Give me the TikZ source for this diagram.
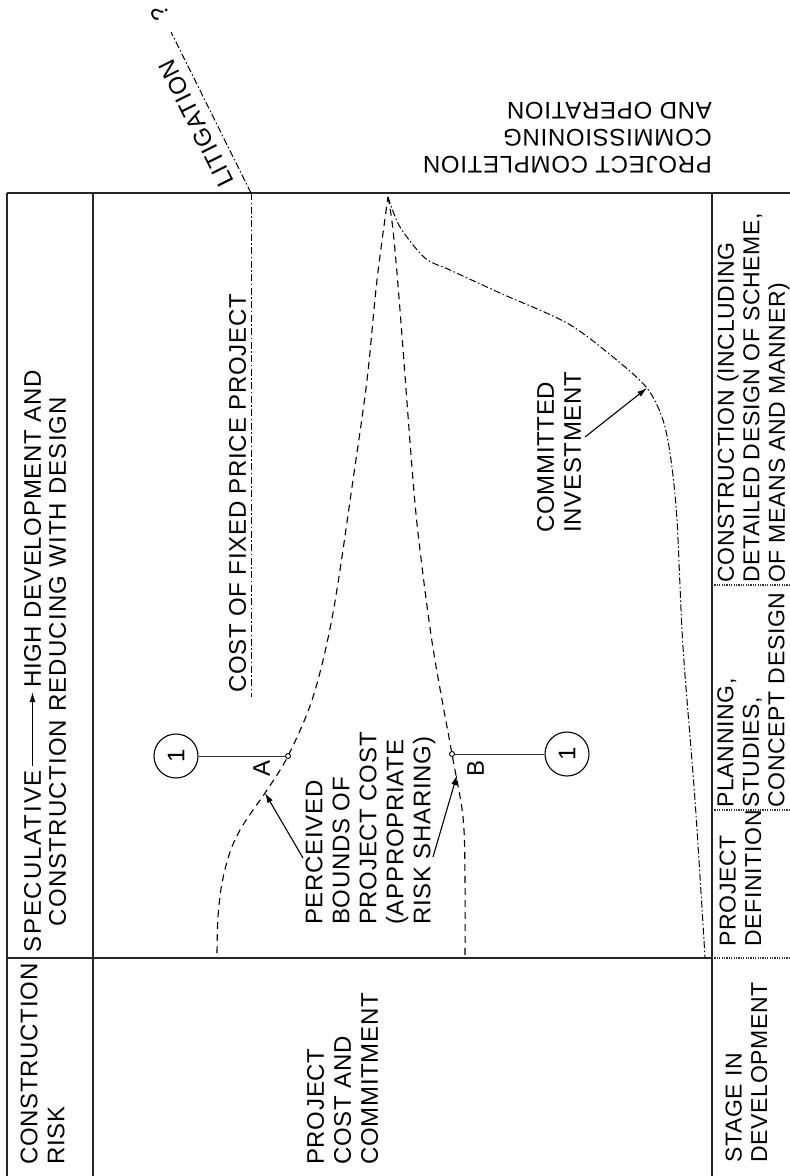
\documentclass[tikz,border=0pt]{standalone}
\usepackage{fontspec}
\setmainfont{Liberation Sans}[LetterSpace=3]
\newfontfamily\hdrfont{Liberation Sans}[LetterSpace=5]
\newfontfamily\specfont{Liberation Sans}[LetterSpace=8]
\newfontfamily\highfont{Liberation Sans}[LetterSpace=3]
\usetikzlibrary{arrows.meta}
\begin{document}
\begin{tikzpicture}[x=1pt,y=-1pt,
  txt/.style={inner sep=0pt, font=\fontsize{24}{27}\selectfont, align=left},
  vtxt/.style={txt, rotate=90},
  hdrtxt/.style={inner sep=0pt, rotate=90, font={\hdrfont\fontsize{24}{27}\selectfont}},
  svtxt/.style={inner sep=0pt, rotate=90, align=left, font=\fontsize{23}{25.5}\selectfont},
  fline/.style={line width=1.6pt, black!85},
  sepline/.style={line width=1.3pt, black!80, dash pattern=on 1.2pt off 1.2pt},
  boundline/.style={line width=1.1pt, dash pattern=on 7pt off 5pt},
  ddline/.style={line width=1pt, dash pattern=on 7pt off 2.5pt on 1.5pt off 2.5pt},
  ptr/.style={line width=1.1pt, -{Latex[length=10pt,width=6pt]}},
  ringnode/.style={circle, draw, line width=1.1pt, minimum size=44pt, inner sep=0pt, rotate=90, font=\fontsize{24}{27}\selectfont},
  ptnode/.style={circle, draw, fill=white, line width=0.9pt, minimum size=5pt, inner sep=0pt},
  leader/.style={line width=1pt, black!80}
]
\useasboundingbox (0,0) rectangle (790,1176);

% ---------- frame ----------
\draw[fline] (7,193) -- (790,193);
\draw[fline] (7,193) -- (7,1176);
\draw[fline] (93,193) -- (93,1176);
\draw[fline] (712,193) -- (712,1176);
\draw[fline] (7,958) -- (712,958);
\draw[sepline] (712,958) -- (790,958);
\draw[sepline] (712,810) -- (790,810);
\draw[sepline] (712,585) -- (790,585);

% ---------- risk row ----------
\node[vtxt, anchor=west] (risk) at (42.5,1165) {CONSTRUCTION\\RISK};
\node[hdrtxt, anchor=west, font={\specfont\fontsize{24}{27}\selectfont}] (spec) at (32.5,953) {SPECULATIVE};
\node[hdrtxt, anchor=east, font={\highfont\fontsize{24}{27}\selectfont}] (high) at (32.5,370) {HIGH DEVELOPMENT AND};
\draw[ptr, shorten <=4pt, shorten >=4pt] (spec.east) -- (high.west);
\node[hdrtxt] (cred) at (57.5,661.5) {CONSTRUCTION REDUCING WITH DESIGN};

% ---------- main area texts ----------
\node[vtxt, anchor=west] (pcc) at (342.5,1165) {PROJECT\\COST AND\\COMMITMENT};
\node[vtxt, anchor=west] (fixed) at (237.5,693) {COST OF FIXED PRICE PROJECT};
\node[vtxt, anchor=west] (perc) at (370.5,925) {PERCEIVED\\BOUNDS OF\\PROJECT COST\\(APPROPRIATE\\RISK SHARING)};
\node[vtxt, anchor=west] (ci) at (559,533) {COMMITTED\\INVESTMENT};

% ---------- stage row ----------
\node[svtxt, anchor=west] (stg) at (746.5,1163) {STAGE IN\\DEVELOPMENT};
\node[svtxt, anchor=west] (pdef) at (740.5,947) {PROJECT\\DEFINITION};
\node[svtxt, anchor=west] (plan) at (751,808) {PLANNING,\\STUDIES,\\CONCEPT DESIGN};
\node[svtxt, anchor=west] (constr) at (753.5,583) {CONSTRUCTION (INCLUDING\\DETAILED DESIGN OF SCHEME,\\OF MEANS AND MANNER)};

% ---------- completion text ----------
\node[txt, rotate=180, anchor=west] (compl) at (712,137.5) {PROJECT COMPLETION\\COMMISSIONING\\AND OPERATION};

% ---------- fixed price and litigation ----------
\coordinate (fxtop) at (251,193);
\coordinate (fxbot) at (251,697);
\coordinate (litend) at (171,32);
\draw[ddline] (fxtop) -- (fxbot);
\draw[ddline] (fxtop) -- (litend);
\node[txt, rotate=116.5] (lit) at (196.5,123.5) {LITIGATION};
\node[txt, rotate=116.5] (qm) at (160,13) {?};

% ---------- curves ----------
\draw[boundline] plot[smooth, tension=0.55] coordinates {(217,953) (218,917) (222,883) (230,852) (240,830) (253,810) (267,790) (288,756) (313,697) (333,613) (353,480) (367,380) (377,280) (388,197)};
\draw[boundline] plot[smooth, tension=0.55] coordinates {(388,197) (393,230) (400,310) (413,480) (420,550) (433,648) (452,754) (463,817) (465,880) (465,955)};
\draw[ddline] plot[smooth, tension=0.5] coordinates {(388,197) (400,227) (425,258) (450,270) (500,293) (567,323) (613,357) (647,388) (663,420) (671,460) (677,520) (683,647) (695,800) (705,957)};

% ---------- pointers ----------
\coordinate (tailA) at (303,858);
\coordinate (headA) at (265,793);
\coordinate (tailB) at (433,857);
\coordinate (headB) at (457,775);
\coordinate (tailC) at (585,437);
\coordinate (headC) at (647,388);
\draw[ptr] (tailA) -- (headA);
\draw[ptr] (tailB) -- (headB);
\draw[ptr] (tailC) -- (headC);

% ---------- points A and B ----------
\node[ringnode] (r1) at (176,756) {1};
\node[ptnode] (pA) at (288,756) {};
\draw[leader] (r1) -- (pA);
\node[vtxt] (la) at (261.5,768) {A};
\node[ringnode] (r2) at (567,754) {1};
\node[ptnode] (pB) at (452,754) {};
\draw[leader] (r2) -- (pB);
\node[vtxt] (lb) at (475.5,768.5) {B};
\end{tikzpicture}
\end{document}
